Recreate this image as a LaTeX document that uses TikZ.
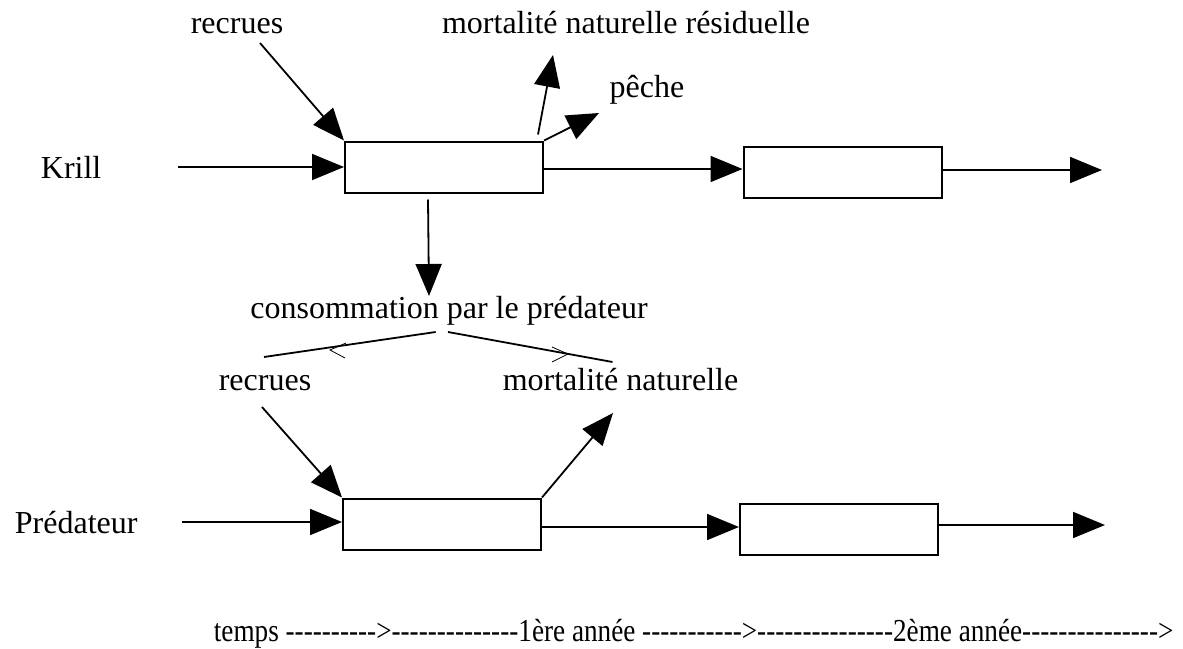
\documentclass[tikz,border=0pt]{standalone}
\usepackage{fontspec}
\setmainfont{Liberation Serif}[Ligatures=TeXOff]
\usetikzlibrary{arrows.meta}
\tikzset{
  boite/.style={draw, line width=2pt, minimum width=198pt, minimum height=51pt, inner sep=0pt},
  legende/.style={anchor=base, inner sep=0pt},
}
\begin{document}
\begin{tikzpicture}[x=1pt,y=-1pt,line width=1.8pt,>={Triangle[length=32pt,width=26pt]},font=\fontsize{32}{38}\selectfont]
\useasboundingbox (0,0) rectangle (1183,648);
% krill
\node [legende] (rec1) at (237,33) {recrues};
\node [legende] (mnr) at (626,33) {mortalité naturelle résiduelle};
\node [legende] (peche) at (647,97) {pêche};
\node [legende, anchor=base west] (krill) at (40,178) {Krill};
\node [boite] (box1) at (444,167) {};
\node [boite] (box2) at (842.5,172) {};
\coordinate (kin) at (178,167);
\coordinate (kout) at (1102,170);
\coordinate (rec1b) at (260,43);
\coordinate (mnrb) at (553,55);
\coordinate (pecheb) at (599,113);
\draw [->] (kin) -- (kin -| box1.west);
\draw [->] (rec1b) -- (box1.north west);
\draw [->] ([shift={(-6pt,6pt)}]box1.north east) -- (mnrb);
\draw [->] (box1.north east) -- (pecheb);
\draw [->] ([yshift=-2pt]box1.east) -- ([yshift=-2pt]box1.east -| box2.west);
\draw [->] (box2.east |- kout) -- (kout);
% consommation
\node [legende] (conso) at (449,318) {consommation par le prédateur};
\coordinate (consoh) at (429,296);
\draw [->] ([shift={(-16pt,-6pt)}]box1.south) -- (consoh);
\coordinate (gauche) at (264,357);
\coordinate (droite) at (612.5,362);
\draw (435.7,332) -- (gauche);
\draw (448,332) -- (droite);
\draw [line width=0.8pt] (346,343) -- (330,350) -- (345,358);
\draw [line width=0.8pt] (552,347) -- (568,354) -- (552,362);
% predateur
\node [legende] (rec2) at (265,390) {recrues};
\node [legende] (mn) at (620.5,390) {mortalité naturelle};
\node [legende, anchor=base west] (pred) at (14,533) {Prédateur};
\node [boite] (box3) at (442,524) {};
\node [boite] (box4) at (839,529) {};
\coordinate (pin) at (182,522);
\coordinate (pout) at (1105,525);
\coordinate (rec2b) at (262,407);
\coordinate (mnb) at (613,413);
\draw [->] (pin) -- (pin -| box3.west);
\draw [->] (rec2b) -- (box3.north west);
\draw [->] (box3.north east) -- (mnb);
\draw [->] ([yshift=-3pt]box3.east) -- ([yshift=-3pt]box3.east -| box4.west);
\draw [->] (box4.east |- pout) -- (pout);
% temps
\node [legende, anchor=base west] (temps) at (213,641) {\scalebox{0.85}[1]{temps ---------->--------------1ère année ----------->---------------2ème année--------------->}};
\end{tikzpicture}
\end{document}
